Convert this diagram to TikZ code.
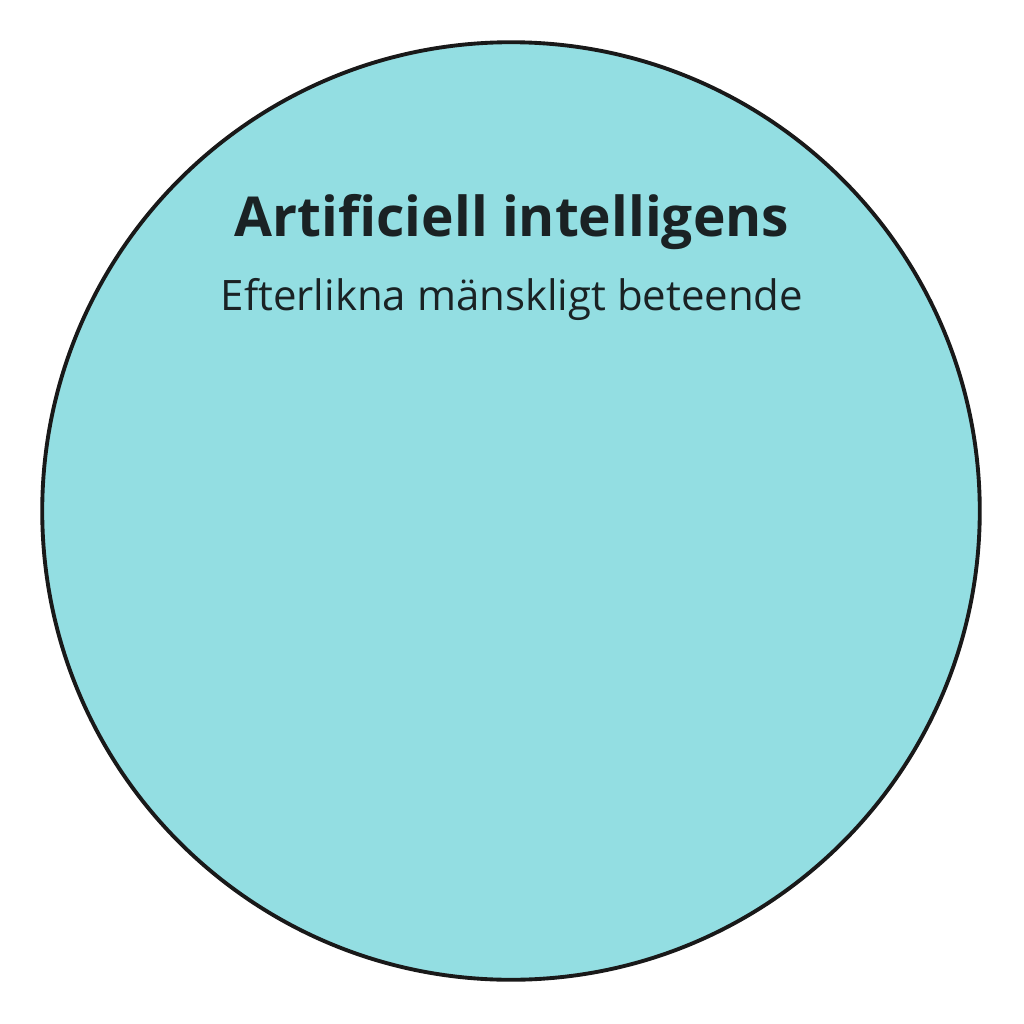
\documentclass[tikz,border=0pt]{standalone}
\usepackage{fontspec}
\setmainfont{Open Sans}
\definecolor{aifill}{HTML}{93DEE2}
\definecolor{aitext}{HTML}{1A2224}
\begin{document}
\begin{tikzpicture}[x=0.01cm,y=-0.01cm,
  outer/.style={circle,draw=black!90,line width=1.1pt,fill=aifill,minimum size=9.37cm,inner sep=0pt},
  titletxt/.style={font=\bfseries\fontsize{15.66}{19}\selectfont,text=aitext,anchor=base},
  subtxt/.style={font=\fontsize{11.93}{14}\selectfont,text=aitext,anchor=base}]
\useasboundingbox[fill=white] (0,0) rectangle (1024,1024);
\node[outer] (ai) at (511,511) {};
\node[titletxt] (title) at (512,236) {Artificiell intelligens};
\node[subtxt] (sub) at (512,310) {Efterlikna mänskligt beteende};
\end{tikzpicture}
\end{document}
